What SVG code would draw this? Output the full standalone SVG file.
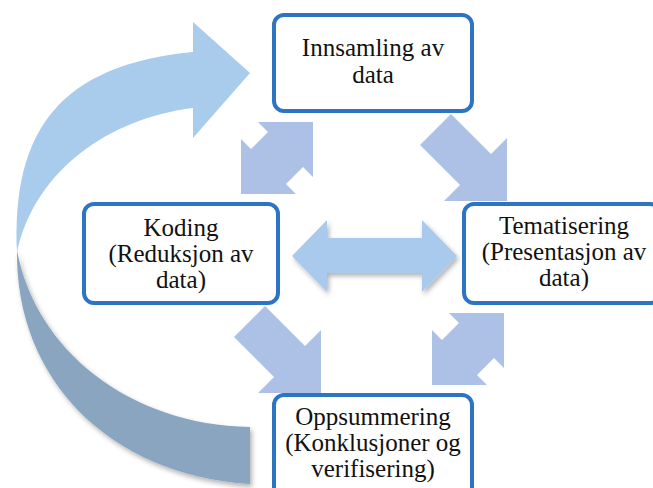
<svg xmlns="http://www.w3.org/2000/svg" width="653" height="488" viewBox="0 0 653 488">
<defs>
<style>
.box{fill:#ffffff;stroke:#2d74c2;stroke-width:4}
.t{font-family:"Liberation Serif","Times New Roman",serif;font-size:25px;fill:#111111;text-anchor:middle}
.diag{fill:#adc0e6}
</style>
<filter id="sh" x="-20%" y="-20%" width="140%" height="140%">
<feDropShadow dx="2" dy="3" stdDeviation="2.5" flood-color="#000" flood-opacity="0.3"/>
</filter>
<polygon id="dbl" points="72,0 72,55 62,45 45,62 55,72 0,72 0,17 10,27 27,10 17,0"/>
<polygon id="sgl" points="33,0 73,40 89,24 89,87 26,87 42,71 2,31"/>
</defs>
<g id="connectors">
<g id="cycle-arrow">
<path d="M17,250 C15,380 110,475 250,484 L250,427 C130,425 35,350 17,250 Z" fill="#89a5bf" filter="url(#sh)"/>
<path d="M193,22 L250,73 L193,138 L193,108 C110,118 35,170 17,252 C12,130 60,65 193,52 Z" fill="#a9cbec"/>
</g>
<use href="#dbl" class="diag" x="241" y="122"/>
<use href="#dbl" class="diag" x="432" y="313"/>
<use href="#sgl" class="diag" x="418" y="114"/>
<use href="#sgl" class="diag" x="232" y="306"/>
<polygon id="h-arrow" points="292,256 327,220 327,238 422,238 422,220 457,256 422,292 422,273 327,273 327,292" fill="#a9caed" filter="url(#sh)"/>
</g>
<g id="n1">
<rect class="box" x="274" y="15" width="198" height="96" rx="10"/>
<text class="t" x="373" y="56">Innsamling av</text>
<text class="t" x="373" y="83">data</text>
</g>
<g id="n2">
<rect class="box" x="84" y="204" width="194" height="99" rx="10"/>
<text class="t" x="181" y="236">Koding</text>
<text class="t" x="181" y="262">(Reduksjon av</text>
<text class="t" x="181" y="288">data)</text>
</g>
<g id="n3">
<rect class="box" x="464" y="204" width="196" height="99" rx="10"/>
<text class="t" x="564" y="234">Tematisering</text>
<text class="t" x="564" y="260">(Presentasjon av</text>
<text class="t" x="564" y="286">data)</text>
</g>
<g id="n4">
<rect class="box" x="274" y="395" width="198" height="110" rx="10"/>
<text class="t" x="373" y="425">Oppsummering</text>
<text class="t" x="373" y="451">(Konklusjoner og</text>
<text class="t" x="373" y="477">verifisering)</text>
</g>
</svg>
